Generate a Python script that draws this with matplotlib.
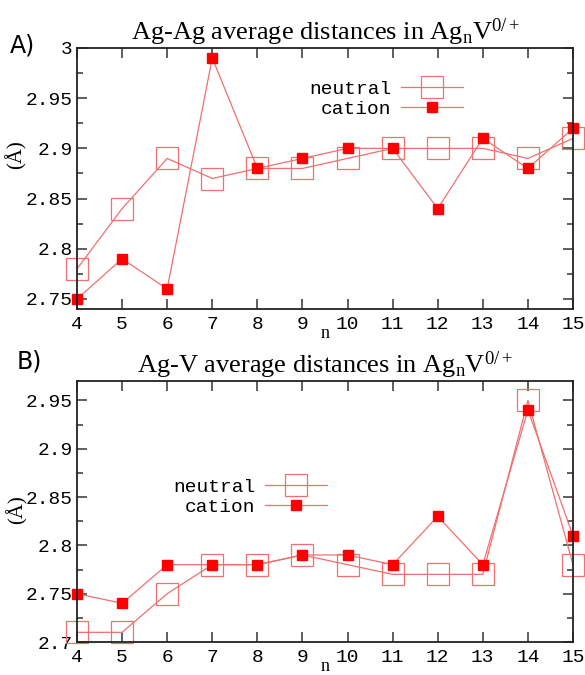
import matplotlib
matplotlib.use("Agg")
import matplotlib.pyplot as plt
from matplotlib.ticker import MultipleLocator

# cluster size n
n = [4, 5, 6, 7, 8, 9, 10, 11, 12, 13, 14, 15]

# A) Ag-Ag average distances (Angstrom)
agag_neutral = [2.78, 2.84, 2.89, 2.87, 2.88, 2.88, 2.89, 2.90, 2.90, 2.90, 2.89, 2.91]
agag_cation = [2.75, 2.79, 2.76, 2.99, 2.88, 2.89, 2.90, 2.90, 2.84, 2.91, 2.88, 2.92]

# B) Ag-V average distances (Angstrom)
agv_neutral = [2.71, 2.71, 2.75, 2.78, 2.78, 2.79, 2.78, 2.77, 2.77, 2.77, 2.95, 2.78]
agv_cation = [2.75, 2.74, 2.78, 2.78, 2.78, 2.79, 2.79, 2.78, 2.83, 2.78, 2.94, 2.81]

line_col = "#f07070"
mono = "Liberation Mono"
serif = "Liberation Serif"
plt.rcParams["mathtext.fontset"] = "custom"
plt.rcParams["mathtext.rm"] = serif
plt.rcParams["mathtext.it"] = serif + ":italic"

fig = plt.figure(figsize=(5.85, 6.75), dpi=100)
W, H = 585, 675


def panel(rect, neutral, cation, ylim, yticks, title, letter, letter_xy, leg_anchor, ylab_xy):
    x0, y0, x1, y1 = rect
    ax = fig.add_axes([x0 / W, 1 - y1 / H, (x1 - x0) / W, (y1 - y0) / H])
    ax.plot(n, neutral, color=line_col, lw=0.9, marker="s", ms=16, mfc="none",
            mec=line_col, mew=0.9, clip_on=False, label="neutral")
    ax.plot(n, cation, color=line_col, lw=0.9, marker="s", ms=6.5, mfc="red",
            mec="red", clip_on=False, label="cation")
    ax.set_xlim(4, 15)
    ax.set_ylim(*ylim)
    ax.set_xticks(n)
    ax.set_yticks(yticks)
    ax.set_yticklabels([("%g" % v) for v in yticks])
    ax.yaxis.set_minor_locator(MultipleLocator(0.025))
    ax.tick_params(which="both", direction="in", top=True, right=True,
                   labelsize=14, width=1.1, color="#333333")
    ax.tick_params(which="major", length=7)
    ax.tick_params(which="minor", length=4)
    for lab in ax.get_xticklabels() + ax.get_yticklabels():
        lab.set_fontfamily(mono)
    ax.tick_params(axis="x", pad=5)
    ax.tick_params(axis="y", pad=3)
    for s in ax.spines.values():
        s.set_linewidth(1.3)
        s.set_color("#222222")
    ax.set_xlabel("n", family=serif, fontsize=13, labelpad=-6)
    ax.set_ylabel("(Å)", family=serif, fontsize=15)
    ax.yaxis.set_label_coords(ylab_xy[0] / W, 1 - ylab_xy[1] / H, transform=fig.transFigure)
    ax.set_title(title, family=serif, fontsize=19, pad=5)
    fig.text(letter_xy[0] / W, 1 - letter_xy[1] / H, letter, fontsize=17,
             family="DejaVu Sans", va="center")
    leg = ax.legend(loc="center", bbox_to_anchor=(leg_anchor[0], leg_anchor[1]),
                    bbox_transform=fig.transFigure, frameon=False, markerfirst=False,
                    prop={"family": mono, "size": 14}, handlelength=3.2,
                    labelspacing=0.1, handletextpad=0.5)
    for t in leg.get_texts():
        t.set_ha("right")
    return ax


panel((77, 48, 573, 309), agag_neutral, agag_cation, (2.74, 3.0),
      [2.75, 2.8, 2.85, 2.9, 2.95, 3.0],
      r"Ag-Ag average distances in Ag$_{\mathrm{n}}$V$^{0/+}$", "A)", (10, 45),
      (386 / W, 1 - 99 / H), (27, 155))
panel((77, 381, 573, 642), agv_neutral, agv_cation, (2.7, 2.97),
      [2.7, 2.75, 2.8, 2.85, 2.9, 2.95],
      r"Ag-V average distances in Ag$_{\mathrm{n}}$V$^{0/+}$", "B)", (17, 362),
      (250 / W, 1 - 497 / H), (28, 510))

fig.savefig("out.png", dpi=100)
